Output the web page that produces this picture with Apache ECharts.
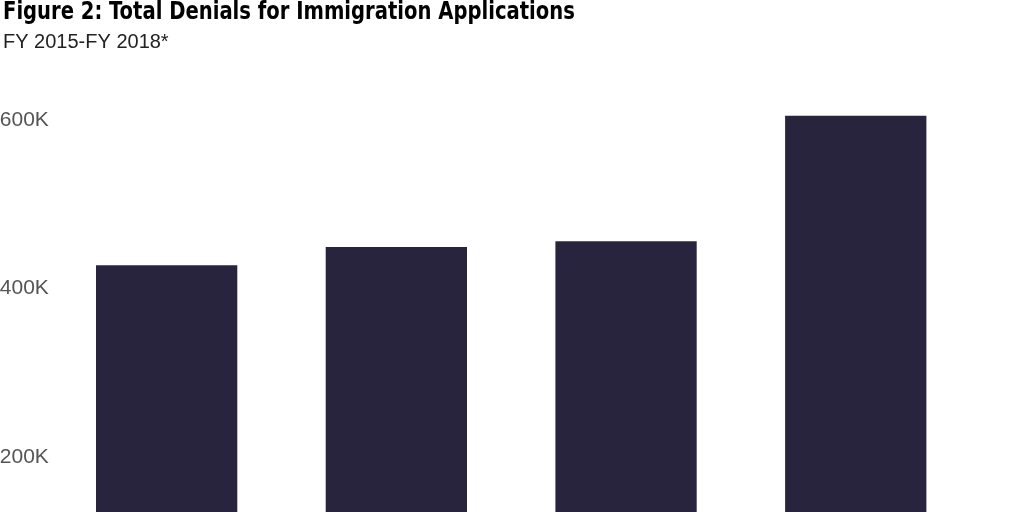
<!DOCTYPE html>
<html>
<head>
<meta charset="utf-8">
<script src="https://cdn.jsdelivr.net/npm/echarts@6/dist/echarts.min.js"></script>
<style>html,body{margin:0;padding:0;background:#fff;}#c{width:1024px;height:512px;}</style>
</head>
<body>
<div id="c"></div>
<script>
const titleText = 'Figure 2: Total Denials for Immigration Applications';
const subtitleText = 'FY 2015-FY 2018*';
const categories = ['FY 2015', 'FY 2016', 'FY 2017', 'FY 2018*'];
const denials = [427600, 449300, 456100, 605100];
const yTicks = [0, 200000, 400000, 600000];

const chart = echarts.init(document.getElementById('c'), null, {renderer: 'canvas'});
chart.setOption({
  animation: false,
  backgroundColor: '#ffffff',
  graphic: [
    {type: 'text', x: 3, y: 12.5, scaleX: 0.871,
     style: {text: titleText, x: 0, y: 0, verticalAlign: 'middle', align: 'left',
             fontFamily: 'DejaVu Sans Condensed', fontWeight: 'bold', fontSize: 25, fill: '#000'}},
    {type: 'text', x: 3, y: 42, scaleX: 1.0,
     style: {text: subtitleText, x: 0, y: 0, verticalAlign: 'middle', align: 'left',
             fontFamily: 'Liberation Sans', fontSize: 20, fill: '#222'}}
  ],
  grid: {left: 51.8, top: 120, right: 53.4, bottom: -113.8, containLabel: false, outerBoundsMode: 'none'},
  xAxis: {
    type: 'category', data: categories,
    axisLine: {show: false}, axisTick: {show: false}, axisLabel: {show: false}
  },
  yAxis: {
    type: 'value', min: 0, max: yTicks[yTicks.length - 1], interval: 200000,
    splitLine: {show: false}, axisLine: {show: false}, axisTick: {show: false},
    axisLabel: {
      align: 'left', margin: 52, color: '#555', fontSize: 21,
      fontFamily: 'Liberation Sans',
      formatter: v => v === 0 ? '' : (v / 1000) + 'K'
    }
  },
  series: [{
    type: 'bar', data: denials, barWidth: 141.3, clip: false,
    itemStyle: {color: '#29243d'}
  }]
});
</script>
</body>
</html>
